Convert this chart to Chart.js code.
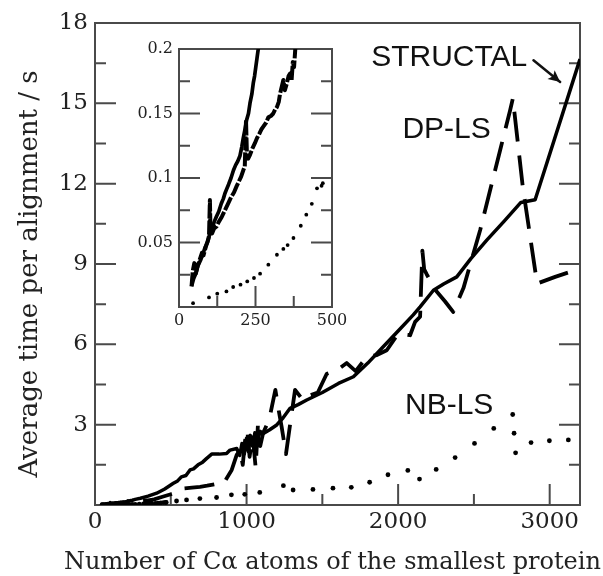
<!DOCTYPE html>
<html><head><meta charset="utf-8">
<script src="https://cdn.jsdelivr.net/npm/chart.js@4.4.0/dist/chart.umd.min.js"></script>
<style>
html,body{margin:0;padding:0;background:#fff;}
#wrap{position:relative;width:603px;height:576px;overflow:hidden;}
#main{position:absolute;left:0;top:0;}
#inset{position:absolute;left:130px;top:30px;}
</style></head><body>
<div id="wrap">
<canvas id="main" width="603" height="576"></canvas>
<canvas id="inset" width="225" height="310"></canvas>
</div>
<script>
// ---------- data (x = number of C-alpha atoms, y = seconds) ----------
const structalX = [41,48,55,62,70,78,85,93,101,108,115,122,130,138,145,150,155,162,170,178,185,192,199,205,210,215,221,227,232,238,243,247,251,255,259,265,
  300,350,407,460,517,545,570,600,627,650,680,710,737,770,820,868,891,935,955,970,985,1000,1012,1025,1040,1055,1070,1090,1111,1150,1199,1240,1287,1340,1397,1500,1606,1705,1800,1900,2000,2100,2145,2233,2300,2387,2480,2585,2700,2810,2904,3200];
const structalY = [0.016,0.022,0.026,0.032,0.036,0.041,0.046,0.050,0.057,0.060,0.066,0.070,0.074,0.080,0.084,0.088,0.091,0.095,0.100,0.106,0.110,0.113,0.117,0.124,0.131,0.137,0.145,0.150,0.158,0.165,0.174,0.179,0.186,0.193,0.200,0.210,
  0.25,0.33,0.44,0.6,0.81,0.9,1.05,1.1,1.31,1.35,1.5,1.6,1.74,1.9,1.9,1.92,2.05,2.11,1.85,2.3,1.9,2.5,2.0,2.6,2.2,2.7,2.35,2.75,2.67,2.8,2.99,3.25,3.61,3.75,3.92,4.2,4.54,4.79,5.3,5.9,6.5,7.1,7.4,8.02,8.25,8.52,9.2,9.89,10.6,11.3,11.4,16.65];

const dplsX = [41,45,50,55,60,68,75,80,88,95,98,101,103,108,115,123,130,140,150,160,170,180,188,195,203,210,215,219,222,226,232,240,248,255,262,270,276,285,292,300,308,314,320,326,330,336,341,346,352,358,363,368,372,376,380,390,
  440,500,540,583,640,693,740,792,847,869,902,935,957,975,990,1005,1020,1040,1060,1075,1090,1110,1150,1190,1210,1232,1260,1287,1320,1375,1420,1470,1529,1600,1661,1720,1793,1860,1925,2000,2079,2112,2145,2160,2172,2190,2250,2310,2363,2431,2541,2673,2739,2757,2822,2917,3036,3200];
const dplsY = [0.016,0.028,0.034,0.026,0.031,0.037,0.042,0.040,0.047,0.052,0.055,0.083,0.058,0.057,0.061,0.0625,0.066,0.070,0.075,0.080,0.085,0.089,0.0935,0.097,0.101,0.106,0.109,0.145,0.118,0.115,0.118,0.123,0.127,0.131,0.134,0.138,0.140,0.143,0.147,0.148,0.150,0.153,0.155,0.159,0.165,0.171,0.176,0.168,0.173,0.179,0.181,0.176,0.190,0.186,0.200,0.210,
  0.3,0.4,0.47,0.62,0.65,0.68,0.72,0.78,0.78,1.0,1.31,1.87,2.05,1.5,2.4,2.8,1.8,2.6,1.4,3.0,2.2,2.7,3.2,4.3,3.6,2.9,1.9,3.0,4.3,3.9,4.1,4.2,4.9,5.05,5.3,5.0,5.53,5.6,5.78,6.4,6.34,6.84,7.03,9.5,8.8,8.6,8.0,7.6,7.21,8.1,10.26,13.25,14.74,15.18,11.9,8.27,8.52,8.83];

const nblsX = [46,98,125,155,177,201,223,245,265,292,320,341,355,374,398,416,434,451,466,470,
  538,604,692,802,900,988,1087,1243,1307,1438,1570,1691,1812,1933,2064,2141,2251,2376,2504,2631,2756,2765,2775,2877,2998,3123];
const nblsY = [0.003,0.0074,0.0103,0.0121,0.0155,0.0173,0.0198,0.0225,0.0258,0.0328,0.0405,0.045,0.048,0.0535,0.063,0.0716,0.08,0.092,0.094,0.096,
  0.15,0.19,0.24,0.28,0.38,0.40,0.47,0.72,0.56,0.58,0.63,0.66,0.85,1.13,1.29,0.97,1.33,1.77,2.3,2.86,3.38,2.68,1.95,2.33,2.4,2.43];

// ---------- ticks / labels ----------
const mainXTicks = [0,1000,2000,3000];
const mainXLabels = ['0','1000','2000','3000'];
const mainXMinor = [500,1500,2500];
const mainYTicks = [3,6,9,12,15,18];
const mainYLabels = ['3','6','9','12','15','18'];
const mainYMinor = [1.5,4.5,7.5,10.5,13.5,16.5];
const insetXTicks = [0,250,500];
const insetXLabels = ['0','250','500'];
const insetXMinor = [125,375];
const insetYTicks = [0.05,0.1,0.15,0.2];
const insetYLabels = ['0.05','0.1','0.15','0.2'];
const insetYMinor = [0.025,0.075,0.125,0.175];

const xTitle = 'Number of C\u03B1 atoms of the smallest protein';
const yTitle = 'Average time per alignment / s';

const annotationLabels = ['STRUCTAL','DP-LS','NB-LS'];
const annotationX = [2337,2320,2337];
const annotationY = [16.72,14.0,3.69];
const arrowFrom = [2893,16.61];
const arrowTo = [3069,15.8];

// ---------- helpers ----------
const pts = (xs, ys) => xs.map((v,i) => ({x: v, y: ys[i]}));
const AXIS = '#4a4a4a';
const TXT = '#222';
const serif = 'DejaVu Serif';

const boxTicks = {
  id: 'boxTicks',
  beforeDatasetsDraw(chart, args, o) {
    const {ctx, chartArea: a, scales: {x, y}} = chart;
    ctx.save();
    ctx.strokeStyle = AXIS; ctx.lineWidth = 2;
    ctx.strokeRect(a.left, a.top, a.right - a.left, a.bottom - a.top);
    ctx.beginPath();
    const xt = (vals, len) => vals.forEach(v => { const p = x.getPixelForValue(v); ctx.moveTo(p, a.bottom); ctx.lineTo(p, a.bottom - len); });
    const yt = (vals, len) => vals.forEach(v => { const p = y.getPixelForValue(v);
      ctx.moveTo(a.left, p); ctx.lineTo(a.left + len, p); ctx.moveTo(a.right, p); ctx.lineTo(a.right - len, p); });
    xt(o.xMajor, o.major); xt(o.xMinor, o.minor); yt(o.yMajor, o.major); yt(o.yMinor, o.minor);
    ctx.stroke();
    ctx.restore();
  }
};

const annotate = {
  id: 'annotate',
  afterDatasetsDraw(chart) {
    const o = chart.options.plugins.annotate;
    if (!o || !o.on) return;
    const {ctx, chartArea: a, scales: {x, y}} = chart;
    ctx.save();
    ctx.fillStyle = '#111';
    ctx.font = '30px "Liberation Sans", Arial, sans-serif';
    ctx.textAlign = 'center'; ctx.textBaseline = 'middle';
    annotationLabels.forEach((t, i) => ctx.fillText(t, x.getPixelForValue(annotationX[i]), y.getPixelForValue(annotationY[i])));
    const x0 = x.getPixelForValue(arrowFrom[0]), y0 = y.getPixelForValue(arrowFrom[1]);
    const x1 = x.getPixelForValue(arrowTo[0]), y1 = y.getPixelForValue(arrowTo[1]);
    const ang = Math.atan2(y1 - y0, x1 - x0);
    ctx.strokeStyle = '#111'; ctx.lineWidth = 2.5; ctx.lineCap = 'round';
    ctx.beginPath(); ctx.moveTo(x0, y0); ctx.lineTo(x1, y1); ctx.stroke();
    ctx.beginPath();
    ctx.moveTo(x1, y1);
    ctx.lineTo(x1 - 13*Math.cos(ang - 0.45), y1 - 13*Math.sin(ang - 0.45));
    ctx.lineTo(x1 - 9*Math.cos(ang), y1 - 9*Math.sin(ang));
    ctx.lineTo(x1 - 13*Math.cos(ang + 0.45), y1 - 13*Math.sin(ang + 0.45));
    ctx.closePath(); ctx.fill();
    // axis titles
    ctx.fillStyle = TXT;
    ctx.font = '24px "' + serif + '"';
    ctx.fillText(xTitle, (a.left + a.right) / 2 - 5, a.bottom + 58);
    ctx.translate(30, (a.top + a.bottom) / 2 + 10);
    ctx.rotate(-Math.PI / 2);
    ctx.font = '26px "' + serif + '"';
    ctx.fillText(yTitle, 0, 0);
    ctx.restore();
  }
};

function makeChart(id, cfg) {
  return new Chart(document.getElementById(id), {
    type: 'scatter',
    data: {
      datasets: [
        {label: 'STRUCTAL', data: pts(structalX, structalY), showLine: true, borderColor: '#000', borderWidth: cfg.lw, pointRadius: 0, tension: 0, borderJoinStyle: 'round', fill: false},
        {label: 'DP-LS', data: pts(dplsX, dplsY), showLine: true, borderColor: '#000', borderWidth: cfg.lw + 0.3, borderDash: cfg.dash, pointRadius: 0, tension: 0, borderJoinStyle: 'round', fill: false},
        {label: 'NB-LS', data: pts(nblsX, nblsY), showLine: false, pointRadius: cfg.pr, pointStyle: 'circle', backgroundColor: '#000', borderWidth: 0}
      ]
    },
    options: {
      responsive: false, animation: false, devicePixelRatio: 1,
      layout: {padding: cfg.padding},
      plugins: {legend: {display: false}, tooltip: {enabled: false},
        boxTicks: cfg.ticks, annotate: {on: cfg.annot}},
      scales: {
        x: {
          type: 'linear', min: cfg.xMin, max: cfg.xMax,
          afterBuildTicks: s => { s.ticks = cfg.xTicks.map(v => ({value: v})); },
          afterFit: s => { s.height = cfg.xH; },
          grid: {display: false, drawTicks: false},
          border: {display: false},
          ticks: {font: {family: serif, size: cfg.fs}, color: TXT, padding: cfg.xPad, maxRotation: 0, autoSkip: false,
            callback: (v, i) => cfg.xLabels[i]},
          title: {display: false}
        },
        y: {
          type: 'linear', min: cfg.yMin, max: cfg.yMax,
          afterBuildTicks: s => { s.ticks = cfg.yTicks.map(v => ({value: v})); },
          afterFit: s => { s.width = cfg.yW; },
          grid: {display: false, drawTicks: false},
          border: {display: false},
          ticks: {font: {family: serif, size: cfg.fs}, color: TXT, padding: cfg.yPad, autoSkip: false,
            callback: (v, i) => cfg.yLabels[i]},
          title: {display: false}
        }
      }
    },
    plugins: [boxTicks, annotate]
  });
}

makeChart('main', {
  lw: 3.5, dash: [30, 14], pr: 2.4,
  padding: {top: 23, right: 23, left: 0, bottom: 0},
  xMin: 0, xMax: 3200, yMin: 0, yMax: 18,
  xTicks: mainXTicks, xLabels: mainXLabels, yTicks: mainYTicks, yLabels: mainYLabels,
  xH: 71, yW: 95, fs: 23, xPad: 3, yPad: 7, annot: true,
  ticks: {xMajor: mainXTicks, xMinor: mainXMinor, yMajor: mainYTicks, yMinor: mainYMinor, major: 21, minor: 11}
});

makeChart('inset', {
  lw: 3.7, dash: [14, 2], pr: 1.9,
  padding: {top: 19, right: 23, left: 0, bottom: 0},
  xMin: 0, xMax: 500, yMin: 0, yMax: 0.2,
  xTicks: insetXTicks, xLabels: insetXLabels, yTicks: insetYTicks, yLabels: insetYLabels,
  xH: 33, yW: 49, fs: 16, xPad: 4, yPad: 6, annot: false,
  ticks: {xMajor: insetXTicks, xMinor: insetXMinor, yMajor: insetYTicks, yMinor: insetYMinor, major: 21, minor: 11}
});
</script>
</body></html>
